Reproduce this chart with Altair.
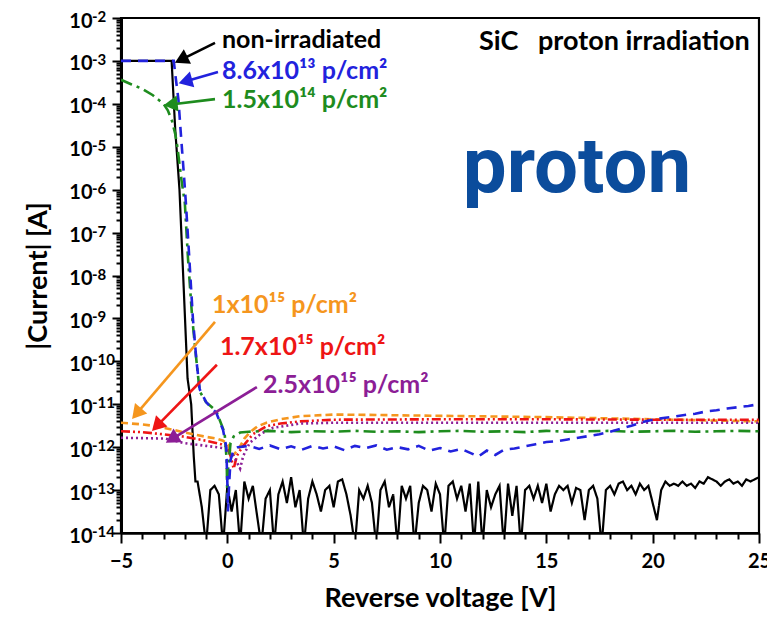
import math
import altair as alt
import pandas as pd

# ------------------------------------------------------------------ data
X_TICKS = list(range(-5, 26))                 # every volt (labels every 5)
DECADES = list(range(-14, -1))                # 10^-14 ... 10^-2
MINOR_MULT = [2, 3, 4, 5, 6, 7, 8, 9]

# non-irradiated (black, solid): compliance + breakdown edge
BLACK_EDGE_V = [-5.0, -2.62, -2.45, -2.25, -2.05, -1.87, -1.70, -1.58, -1.50]
BLACK_EDGE_LOG = [-3.0, -3.0, -4.6, -6.0, -8.3, -10.4, -11.0, -12.2, -12.8]
# noise floor, starting at -1.4 V every 0.2 V (log10 of |I|)
BLACK_NOISE_START = -1.4
BLACK_NOISE_STEP = 0.2
BLACK_NOISE_LOG = [
    -12.8, -13.4, -14.3, -13.0, -12.9, -13.1, -14.3, -12.9, -13.5, -13.0,
    -14.3, -12.8, -13.2, -12.9, -13.6, -14.3, -13.2, -13.0, -14.3, -13.1,
    -12.8, -13.3, -12.7, -13.4, -13.0, -14.3, -13.2, -12.8, -13.1, -13.5,
    -13.0, -12.9, -13.4, -12.8, -12.75, -13.1, -13.6, -14.3, -13.0, -13.2,
    -12.9, -13.3, -14.3, -13.0, -12.8, -13.4, -13.1, -14.3, -12.9, -13.2,
    -12.9, -14.3, -13.3, -12.9, -13.0, -13.5, -12.85, -13.1, -14.3, -12.9,
    -12.8, -13.2, -12.9, -13.5, -12.85, -14.3, -12.8, -14.3, -13.0, -13.4,
    -13.1, -12.9, -14.3, -12.85, -13.6, -12.9, -14.3, -13.0, -12.9, -13.2,
    -12.9, -13.3, -12.85, -13.5, -13.1, -12.9, -13.0, -12.9, -13.3, -12.95,
    -13.0, -13.7, -13.0, -12.9, -13.2, -14.3, -13.0, -12.9, -13.1, -12.85,
    -12.8, -13.0, -12.9, -13.1, -12.85, -13.0, -12.9, -13.3, -13.7, -13.0,
    -12.8, -12.9, -12.85, -12.9, -12.8, -12.9, -12.85, -12.95, -12.8, -12.85,
    -12.7, -12.75, -12.8, -12.9, -12.8, -12.75, -12.85, -12.8, -12.9, -12.75,
    -12.8, -12.75, -12.7,
]

BLUE_V = [-5.0, -2.52, -2.45, -2.3, -2.2, -2.05, -1.95, -1.8, -1.62, -1.45, -1.3,
          -1.0, -0.52, -0.2, -0.05, 0.0, 0.03, 0.08, 0.15, 0.3, 0.5, 1.0, 1.5,
          2.0, 2.5, 3.0, 3.5, 4.0, 4.5, 5.0, 5.5, 6.0, 6.5, 7.0, 7.5, 8.0, 8.5,
          9.0, 9.5, 10.0, 10.5, 11.0, 11.5, 11.8, 12.2, 12.6, 13.0, 13.5, 14.0,
          14.5, 15.0, 15.5, 16.0, 16.5, 17.0, 17.5, 18.0, 18.5, 19.0, 19.5, 20.0,
          20.5, 21.0, 21.5, 22.0, 22.5, 23.0, 23.5, 24.0, 24.5, 25.0]
BLUE_LOG = [-3.0, -3.0, -3.3, -3.9, -4.6, -5.6, -6.3, -7.5, -9.0, -10.0, -10.65,
            -10.95, -11.2, -11.6, -12.0, -12.8, -13.5, -12.9, -12.3, -12.05, -12.0,
            -11.97, -12.04, -11.96, -12.05, -11.98, -12.06, -11.97, -12.03, -11.98,
            -12.07, -11.97, -12.02, -11.96, -12.06, -12.0, -12.05, -11.97, -12.08,
            -12.02, -12.1, -12.04, -12.15, -12.22, -12.08, -12.18, -12.06, -12.03,
            -11.98, -11.93, -11.88, -11.86, -11.82, -11.78, -11.74, -11.7, -11.64,
            -11.57, -11.5, -11.42, -11.36, -11.32, -11.29, -11.25, -11.22, -11.17,
            -11.14, -11.1, -11.07, -11.04, -11.0]

GREEN_V = [-5.0, -4.5, -4.0, -3.5, -3.0, -2.8, -2.6, -2.45, -2.35, -2.15, -2.0,
           -1.85, -1.65, -1.45, -1.3, -1.0, -0.52, -0.13, -0.03, 0.0, 0.04, 0.15,
           0.3, 0.6, 1.0, 2, 3, 4, 5, 6, 7, 8, 9, 10, 11, 12, 13, 14, 15, 16, 17,
           18, 19, 20, 21, 22, 23, 24, 25]
GREEN_LOG = [-3.44, -3.55, -3.65, -3.8, -4.0, -4.15, -4.4, -4.7, -5.0, -5.8, -6.3,
             -7.6, -9.0, -10.0, -10.7, -10.95, -11.16, -11.66, -12.3, -13.2, -12.5,
             -11.9, -11.75, -11.66, -11.64, -11.62, -11.65, -11.63, -11.64, -11.62,
             -11.64, -11.63, -11.65, -11.63, -11.62, -11.64, -11.63, -11.65, -11.62,
             -11.64, -11.63, -11.62, -11.64, -11.63, -11.62, -11.64, -11.63, -11.62,
             -11.63]

ORANGE_V = [-5.0, -4.5, -4.0, -3.5, -3.0, -2.5, -2.0, -1.5, -1.0, -0.5, -0.2, 0.05,
            0.2, 0.35, 0.58, 0.8, 1.05, 1.4, 1.84, 2.5, 3.4, 5, 7, 10, 15, 20, 25]
ORANGE_LOG = [-11.43, -11.45, -11.47, -11.5, -11.55, -11.6, -11.66, -11.71, -11.76,
              -11.8, -11.85, -11.95, -12.2, -12.15, -12.0, -11.8, -11.66, -11.52,
              -11.43, -11.35, -11.28, -11.24, -11.25, -11.27, -11.3, -11.35, -11.4]

RED_V = [-5.0, -4.0, -3.0, -2.1, -1.0, -0.3, -0.05, 0.15, 0.3, 0.45, 0.73, 1.2,
         1.84, 2.5, 3.4, 5, 10, 15, 20, 25]
RED_LOG = [-11.63, -11.65, -11.7, -11.75, -11.85, -11.93, -11.98, -12.2, -12.5,
           -12.2, -11.98, -11.7, -11.51, -11.45, -11.4, -11.36, -11.35, -11.35,
           -11.36, -11.36]

PURPLE_V = [-5.0, -4.0, -2.9, -2.1, -1.0, -0.05, 0.3, 0.5, 0.6, 0.75, 1.05, 1.6,
            2.15, 3.4, 5, 10, 15, 20, 25]
PURPLE_LOG = [-11.78, -11.79, -11.8, -11.9, -11.97, -12.03, -12.2, -12.4, -12.5,
              -12.2, -11.9, -11.68, -11.55, -11.45, -11.43, -11.43, -11.43, -11.43,
              -11.43]

SERIES_NAMES = ["non-irradiated", "1x10^15", "1.7x10^15", "2.5x10^15",
                "1.5x10^14", "8.6x10^13"]
SERIES_COLORS = ["#000000", "#f5961e", "#ee1515", "#8c1e96", "#1e8c1e", "#2222dd"]
SERIES_DASH = [[1, 0], [7, 4], [9, 3, 2, 3, 2, 3], [2, 3], [12, 5, 3, 5], [10, 7]]
SERIES_WIDTH = [2.2, 2.6, 2.6, 2.6, 2.6, 2.6]

# annotations (text label + arrow), in data units (V, log10 I)
LABELS = ["non-irradiated", "8.6x10¹³ p/cm²", "1.5x10¹⁴ p/cm²",
          "1x10¹⁵ p/cm²", "1.7x10¹⁵ p/cm²", "2.5x10¹⁵ p/cm²"]
LABEL_COLORS = ["#000000", "#2222dd", "#1e8c1e", "#f5961e", "#ee1515", "#8c1e96"]
LABEL_V = [-0.25, -0.25, -0.25, -0.72, -0.35, 1.68]
LABEL_LOG = [-2.51, -3.24, -3.91, -8.69, -9.67, -10.55]
ARROW_TAIL_V = [-0.58, -0.44, -0.58, -0.58, -0.49, 1.39]
ARROW_TAIL_LOG = [-2.58, -3.26, -3.89, -9.08, -10.08, -10.6]
ARROW_HEAD_V = [-2.41, -2.23, -2.93, -4.44, -3.5, -2.84]
ARROW_HEAD_LOG = [-3.03, -3.51, -4.03, -11.32, -11.6, -11.88]

CORNER_TEXT = "SiC\u00a0\u00a0\u00a0proton irradiation"
CORNER_V, CORNER_LOG = 24.57, -2.56
BIG_TEXT = "proton"
BIG_V, BIG_LOG = 16.44, -6.05

# ------------------------------------------------------------------ layout
W, H = 638, 515
PX_PER_V = W / 30.0
PX_PER_DEC = H / 12.0
FONT = "Lato"

x_scale = alt.Scale(domain=[-5, 25], nice=False, zero=False)
y_scale = alt.Scale(type="log", domain=[1e-14, 1e-2], nice=False)


def E(v):
    return float(f"1e{v}")


minor_vals = [float(f"{m}e{d}") for d in DECADES[:-1] for m in MINOR_MULT]
y_vals = [E(d) for d in DECADES] + minor_vals
decade_test = "abs(log(datum.value)/LN10 - round(log(datum.value)/LN10)) < 1e-6"

y_axis = alt.Axis(
    values=y_vals,
    labelExpr=f"({decade_test}) ? '10' : ''",
    tickSize={"condition": {"test": decade_test, "value": 9}, "value": 5},
    tickWidth=2,
    tickColor="black",
    domainColor="black",
    domainWidth=3,
    labelFont=FONT,
    labelFontSize=20,
    labelFontWeight="bold",
    labelColor="black",
    labelPadding=20,
    labelBaseline="middle",
    labelOffset=3,
    title="|Current| [A]",
    titleFont=FONT,
    titleFontSize=27,
    titleFontWeight="bold",
    titleColor="black",
    titleAngle=270,
    titleX=-83,
    titleY=H / 2,
    titleAlign="center",
    titleBaseline="middle",
    grid=False,
    labelFlush=False,
    labelOverlap="greedy",
)

x_axis = alt.Axis(
    values=X_TICKS,
    labelExpr="datum.value % 5 === 0 ? datum.label : ''",
    tickSize={"condition": {"test": "datum.value % 5 === 0", "value": 10},
              "value": 6},
    tickWidth=2,
    tickColor="black",
    domainColor="black",
    domainWidth=2.5,
    labelFont=FONT,
    labelFontSize=20,
    labelFontWeight="bold",
    labelColor="black",
    labelPadding=8,
    title="Reverse voltage [V]",
    titleFont=FONT,
    titleFontSize=27,
    titleFontWeight="bold",
    titleColor="black",
    titleX=W / 2,
    titleY=65,
    titleAlign="center",
    titleBaseline="middle",
    grid=False,
    labelFlush=False,
    labelOverlap="greedy",
)

# ------------------------------------------------------------------ tables
black_v = BLACK_EDGE_V + [round(BLACK_NOISE_START + BLACK_NOISE_STEP * i, 2)
                          for i in range(len(BLACK_NOISE_LOG))]
black_log = BLACK_EDGE_LOG + BLACK_NOISE_LOG
curves = {
    "non-irradiated": (black_v, black_log),
    "8.6x10^13": (BLUE_V, BLUE_LOG),
    "1.5x10^14": (GREEN_V, GREEN_LOG),
    "1x10^15": (ORANGE_V, ORANGE_LOG),
    "1.7x10^15": (RED_V, RED_LOG),
    "2.5x10^15": (PURPLE_V, PURPLE_LOG),
}

layers = []
for idx, (name, col, dash, wid) in enumerate(
        zip(SERIES_NAMES, SERIES_COLORS, SERIES_DASH, SERIES_WIDTH)):
    vs, ls = curves[name]
    assert len(vs) == len(ls), name
    df = pd.DataFrame({"V": vs, "I": [10 ** l for l in ls], "order": range(len(vs))})
    enc = dict(
        x=alt.X("V:Q", scale=x_scale, axis=x_axis),
        y=alt.Y("I:Q", scale=y_scale, axis=y_axis),
        order="order:Q",
    )
    layers.append(
        alt.Chart(df).mark_line(color=col, strokeDash=dash, strokeWidth=wid,
                                clip=True, strokeCap="butt").encode(**enc)
    )

# decade exponents of the y tick labels
exp_df = pd.DataFrame({"I": [E(d) for d in DECADES], "t": [str(d) for d in DECADES]})
layers.append(
    alt.Chart(exp_df).mark_text(align="left", baseline="middle", font=FONT,
                                fontSize=15, fontWeight="bold", color="black",
                                dy=-1).encode(
        x=alt.value(-29), y=alt.Y("I:Q", scale=y_scale, axis=y_axis), text="t:N")
)

# arrows
arrow_rows = []
head_rows = []
for i in range(len(LABELS)):
    tx, ty = ARROW_TAIL_V[i], ARROW_TAIL_LOG[i]
    hx, hy = ARROW_HEAD_V[i], ARROW_HEAD_LOG[i]
    dxp = (hx - tx) * PX_PER_V
    dyp = -(hy - ty) * PX_PER_DEC
    L = math.hypot(dxp, dyp)
    ux, uy = dxp / L, dyp / L
    back = 8.0  # pull triangle centre back from the tip
    cx = hx - ux * back / PX_PER_V
    cy = hy + uy * back / PX_PER_DEC
    ang = math.degrees(math.atan2(dxp, -dyp)) % 360
    arrow_rows.append({"k": i, "s": 0, "V": tx, "I": 10 ** ty, "c": LABEL_COLORS[i]})
    arrow_rows.append({"k": i, "s": 1, "V": cx, "I": 10 ** cy, "c": LABEL_COLORS[i]})
    head_rows.append({"V": cx, "I": 10 ** cy, "ang": ang, "c": LABEL_COLORS[i]})

arrow_df = pd.DataFrame(arrow_rows)
head_df = pd.DataFrame(head_rows)
xs = alt.X("V:Q", scale=x_scale, axis=x_axis)
ys = alt.Y("I:Q", scale=y_scale, axis=y_axis)
layers.append(
    alt.Chart(arrow_df).mark_line(strokeWidth=2.6).encode(
        x=xs, y=ys, detail="k:N", order="s:Q", color=alt.Color("c:N", scale=None))
)
layers.append(
    alt.Chart(head_df).mark_point(shape="triangle", filled=True, size=260,
                                  opacity=1).encode(
        x=xs, y=ys, angle=alt.Angle("ang:Q", scale=None),
        color=alt.Color("c:N", scale=None))
)

label_df = pd.DataFrame({"V": LABEL_V, "I": [10 ** l for l in LABEL_LOG],
                         "t": LABELS, "c": LABEL_COLORS})
layers.append(
    alt.Chart(label_df).mark_text(align="left", baseline="middle", font=FONT,
                                  fontSize=25, fontWeight="bold").encode(
        x=xs, y=ys, text="t:N", color=alt.Color("c:N", scale=None))
)

corner_df = pd.DataFrame({"V": [CORNER_V], "I": [10 ** CORNER_LOG], "t": [CORNER_TEXT]})
layers.append(
    alt.Chart(corner_df).mark_text(align="right", baseline="middle", font=FONT,
                                   fontSize=27, fontWeight="bold", color="black").encode(
        x=xs, y=ys, text="t:N")
)

big_df = pd.DataFrame({"V": [BIG_V], "I": [10 ** BIG_LOG], "t": [BIG_TEXT]})
layers.append(
    alt.Chart(big_df).mark_text(align="center", baseline="alphabetic", font="Roboto",
                                fontSize=78, fontWeight="bold", color="#0b4c9c").encode(
        x=xs, y=ys, text="t:N")
)

chart = alt.layer(*layers).properties(
    width=W, height=H,
    autosize=alt.AutoSizeParams(type="none"),
    padding={"left": 121, "top": 18, "right": 8, "bottom": 86},
    background="white",
).configure_view(stroke="black", strokeWidth=2.2)

chart.save("out.html", embed_options={"renderer": "svg", "actions": False})
